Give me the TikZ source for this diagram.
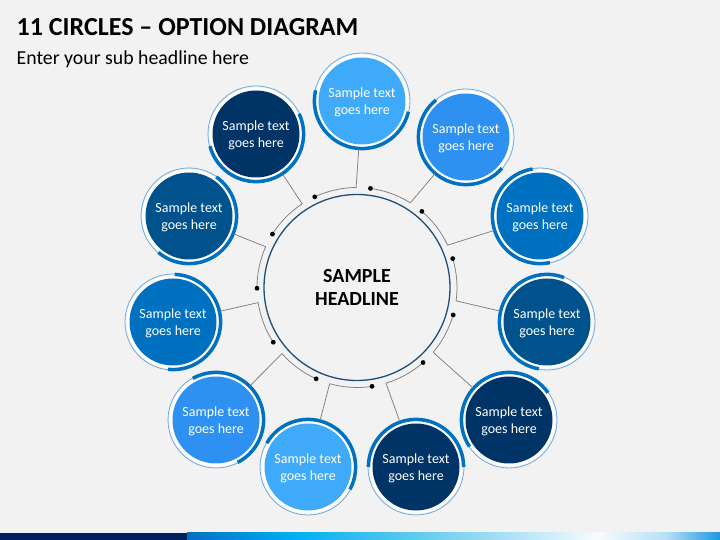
\documentclass[tikz,border=0pt]{standalone}
\usepackage{fontspec}
\setmainfont{Carlito}
\definecolor{bg}{HTML}{F2F2F2}
\definecolor{cLight}{RGB}{64,170,250}
\definecolor{cMed}{RGB}{46,144,240}
\definecolor{cStd}{HTML}{0070C0}
\definecolor{cDark}{RGB}{0,82,140}
\definecolor{cNavy}{RGB}{0,51,102}
\definecolor{ringthinc}{RGB}{110,170,220}
\definecolor{ringthickc}{HTML}{0070C0}
\definecolor{hubline}{HTML}{1F4E79}
\definecolor{wirec}{HTML}{7F7F7F}
\definecolor{barA}{HTML}{002060}
\definecolor{barB}{HTML}{0070C0}
\definecolor{barC}{HTML}{00B0F0}
\definecolor{barD}{HTML}{4CC4EE}
\definecolor{barE}{HTML}{A9E0F5}
\definecolor{barF}{HTML}{F8FBFD}
\definecolor{barG}{HTML}{B5E0F5}
\definecolor{barH}{HTML}{2196E0}
\newcommand\optcircle[6]{%
  \fill[white] (#2,#3) circle (46.5);
  \fill[#4] (#2,#3) circle (43.5);
  \draw[thinring] (#2,#3) circle (48);
  \draw[thickring] (#2,#3) ++(#5:47.6) arc[start angle=#5, end angle=#6, radius=47.6];
  \node[optnode] (#1) at (#2,#3) {};
  \node[opttext] (#1t) at (#2,#3-1.5) {Sample text\\goes here};
}
\begin{document}
\begin{tikzpicture}[x=1pt,y=1pt,
  thinring/.style={draw=ringthinc, line width=0.8pt},
  thickring/.style={draw=ringthickc, line width=3.5pt},
  optnode/.style={circle, minimum size=96pt, inner sep=0pt},
  opttext/.style={inner sep=0pt, text=white, align=center,
    font=\fontsize{14}{17}\selectfont},
  wire/.style={draw=wirec, line width=0.75pt},
  hubnode/.style={circle, draw=hubline, line width=1.3pt, minimum size=186pt, inner sep=0pt,
    align=center, font=\fontsize{20}{23}\selectfont\bfseries},
  dotmark/.style={fill=black}
]
\fill[bg] (0,0) rectangle (720,540);
\useasboundingbox (0,0) rectangle (720,540);
% bottom bar
\fill[barA] (0,0) rectangle (187,7);
\shade[left color=barB, right color=barC] (187,0) rectangle (294,7);
\shade[left color=barC, right color=barD] (294,0) rectangle (390,7);
\shade[left color=barD, right color=barE] (390,0) rectangle (505,7);
\shade[left color=barE, right color=barF] (505,0) rectangle (597,7);
\shade[left color=barF, right color=barG] (597,0) rectangle (666,7);
\shade[left color=barG, right color=barH] (666,0) rectangle (720,7);
% titles
\node[anchor=base west, inner sep=0pt, font=\fontsize{26}{30}\selectfont\bfseries] (title) at (16.5,504) {11 CIRCLES – OPTION DIAGRAM};
\node[anchor=base west, inner sep=0pt, font=\fontsize{19.8}{23}\selectfont] (sub) at (16.5,475) {Enter your sub headline here};
% hub
\coordinate (O) at (357,252.5);
\node[hubnode] (hub) at (O) {SAMPLE\\HEADLINE};
% outer circles
\optcircle{c1}{362}{439}{cLight}{167}{347}
\optcircle{c2}{466}{403}{cMed}{129}{319}
\optcircle{c3}{540}{324}{cStd}{99}{282}
\optcircle{c4}{547}{218}{cDark}{69}{260}
\optcircle{c5}{509}{120}{cNavy}{35}{214}
\optcircle{c6}{416}{73}{cNavy}{0}{180}
\optcircle{c7}{308}{73}{cLight}{-28}{150}
\optcircle{c8}{216}{120}{cMed}{-63}{119}
\optcircle{c9}{173}{218}{cStd}{-96}{88}
\optcircle{c10}{189}{324}{cDark}{230}{415}
\optcircle{c11}{256}{406}{cNavy}{195}{385}
% wires
\foreach \k/\n in {0/c1,1/c2,2/c3,3/c4,4/c5,5/c6,6/c7,7/c8,8/c9,9/c10,10/c11}{
  \pgfmathsetmacro\a{115-\k*360/11}
  \pgfmathsetmacro\b{\a-24.5}
  \draw[wire] (O) ++(\a:100) coordinate (s\k) arc[start angle=\a, end angle=\b, radius=100] coordinate (e\k);
  \draw[wire] (e\k) -- (\n);
  \fill[dotmark] (s\k) circle (2.4);
}
\end{tikzpicture}
\end{document}
